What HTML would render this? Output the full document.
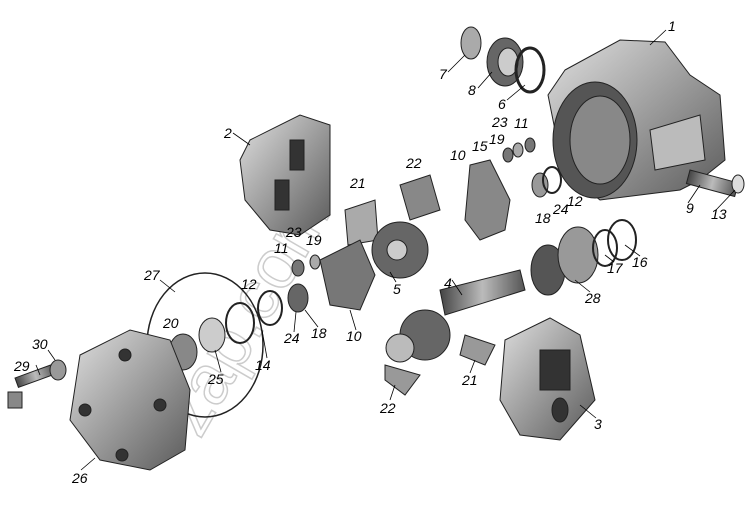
<!DOCTYPE html>
<html><head><meta charset="utf-8"><style>
html,body{margin:0;padding:0;background:#fff}
svg{display:block}
text{font-family:"Liberation Sans",sans-serif;font-size:14px;font-style:italic;fill:#000}
</style></head><body>
<svg width="749" height="512" viewBox="0 0 749 512" xmlns="http://www.w3.org/2000/svg">
<defs>
<linearGradient id="g1" x1="0" y1="0" x2="1" y2="1"><stop offset="0" stop-color="#e0e0e0"/><stop offset="1" stop-color="#5a5a5a"/></linearGradient>
<linearGradient id="g2" x1="0" y1="0" x2="1" y2="0"><stop offset="0" stop-color="#444"/><stop offset=".5" stop-color="#bbb"/><stop offset="1" stop-color="#555"/></linearGradient>
</defs>
<text x="200" y="440" transform="rotate(-60 200 440)" style="font-size:70px;font-style:normal;fill:none;stroke:#ccc;stroke-width:1.5">zap.com</text>
<g stroke="#222" stroke-width="1">
<path d="M565 70 L620 40 L665 42 L690 75 L720 95 L725 160 L700 180 L680 190 L640 195 L600 200 L575 180 L555 130 L548 95 Z" fill="url(#g1)"/>
<ellipse cx="595" cy="140" rx="42" ry="58" fill="#555"/>
<ellipse cx="600" cy="140" rx="30" ry="44" fill="#888"/>
<path d="M650 130 L700 115 L705 160 L655 170 Z" fill="#bbb"/>
<rect x="690" y="170" width="50" height="14" transform="rotate(15 690 170)" fill="url(#g2)"/>
<ellipse cx="738" cy="184" rx="6" ry="9" fill="#ddd"/>
<ellipse cx="471" cy="43" rx="10" ry="16" fill="#aaa"/>
<ellipse cx="505" cy="62" rx="18" ry="24" fill="#666"/>
<ellipse cx="508" cy="62" rx="10" ry="14" fill="#ccc"/>
<ellipse cx="530" cy="70" rx="14" ry="22" fill="none" stroke-width="3"/>
<ellipse cx="508" cy="155" rx="5" ry="7" fill="#777"/>
<ellipse cx="518" cy="150" rx="5" ry="7" fill="#aaa"/>
<ellipse cx="530" cy="145" rx="5" ry="7" fill="#777"/>
<ellipse cx="540" cy="185" rx="8" ry="12" fill="#999"/>
<ellipse cx="552" cy="180" rx="9" ry="13" fill="none" stroke-width="2"/>
<path d="M250 140 L300 115 L330 125 L330 215 L300 235 L270 230 L245 200 L240 160 Z" fill="url(#g1)"/>
<rect x="290" y="140" width="14" height="30" fill="#333"/>
<rect x="275" y="180" width="14" height="30" fill="#333"/>
<path d="M470 165 L490 160 L510 200 L505 230 L480 240 L465 220 Z" fill="#888"/>
<path d="M400 185 L430 175 L440 210 L410 220 Z" fill="#888"/>
<path d="M345 210 L375 200 L378 240 L348 245 Z" fill="#aaa"/>
<circle cx="400" cy="250" r="28" fill="#666"/>
<circle cx="397" cy="250" r="10" fill="#ccc"/>
<path d="M320 260 L360 240 L375 275 L360 310 L330 305 Z" fill="#777"/>
<ellipse cx="298" cy="268" rx="6" ry="8" fill="#777"/>
<ellipse cx="315" cy="262" rx="5" ry="7" fill="#aaa"/>
<ellipse cx="298" cy="298" rx="10" ry="14" fill="#666"/>
<ellipse cx="270" cy="308" rx="12" ry="17" fill="none" stroke-width="2"/>
<ellipse cx="240" cy="323" rx="14" ry="20" fill="none" stroke-width="2"/>
<ellipse cx="205" cy="345" rx="58" ry="72" fill="none" stroke-width="1.5"/>
<ellipse cx="183" cy="352" rx="14" ry="18" fill="#888"/>
<ellipse cx="212" cy="335" rx="13" ry="17" fill="#ccc"/>
<path d="M440 290 L520 270 L525 290 L445 315 Z" fill="url(#g2)"/>
<circle cx="425" cy="335" r="25" fill="#666"/>
<circle cx="400" cy="348" r="14" fill="#bbb"/>
<path d="M385 365 L420 375 L405 395 L385 380 Z" fill="#999"/>
<path d="M465 335 L495 345 L485 365 L460 355 Z" fill="#999"/>
<ellipse cx="548" cy="270" rx="17" ry="25" fill="#555"/>
<ellipse cx="578" cy="255" rx="20" ry="28" fill="#999"/>
<ellipse cx="605" cy="248" rx="12" ry="18" fill="none" stroke-width="2"/>
<ellipse cx="622" cy="240" rx="14" ry="20" fill="none" stroke-width="2"/>
<path d="M505 340 L550 318 L580 335 L595 400 L560 440 L520 435 L500 400 Z" fill="url(#g1)"/>
<rect x="540" y="350" width="30" height="40" fill="#333"/>
<ellipse cx="560" cy="410" rx="8" ry="12" fill="#333"/>
<path d="M80 355 L130 330 L170 340 L190 390 L185 450 L150 470 L100 460 L70 420 Z" fill="url(#g1)"/>
<circle cx="125" cy="355" r="6" fill="#333"/><circle cx="160" cy="405" r="6" fill="#333"/>
<circle cx="122" cy="455" r="6" fill="#333"/><circle cx="85" cy="410" r="6" fill="#333"/>
<rect x="15" y="378" width="40" height="10" transform="rotate(-20 15 378)" fill="url(#g2)"/>
<rect x="8" y="392" width="14" height="16" fill="#888"/>
<ellipse cx="58" cy="370" rx="8" ry="10" fill="#999"/>
</g>
<g stroke="#000" stroke-width="0.8" fill="none">
<path d="M666 30 L650 45"/><path d="M448 72 L465 55"/><path d="M478 88 L492 72"/>
<path d="M507 100 L525 85"/><path d="M233 133 L250 145"/><path d="M688 203 L700 185"/>
<path d="M716 210 L735 190"/><path d="M640 256 L625 245"/><path d="M614 262 L605 255"/>
<path d="M590 292 L575 280"/><path d="M160 280 L175 292"/><path d="M396 282 L390 272"/>
<path d="M452 280 L462 295"/><path d="M81 470 L95 458"/><path d="M36 365 L40 375"/>
<path d="M48 350 L55 360"/><path d="M596 418 L580 405"/><path d="M390 400 L395 385"/>
<path d="M470 373 L475 360"/><path d="M267 358 L262 330"/><path d="M221 372 L215 350"/>
<path d="M356 330 L350 310"/><path d="M294 332 L296 312"/><path d="M318 327 L305 310"/>
</g>
<g>
<text x="668" y="31">1</text><text x="439" y="79">7</text><text x="468" y="95">8</text>
<text x="498" y="109">6</text><text x="492" y="127">23</text><text x="514" y="128">11</text>
<text x="489" y="144">19</text><text x="472" y="151">15</text><text x="450" y="160">10</text>
<text x="224" y="138">2</text><text x="406" y="168">22</text><text x="350" y="188">21</text>
<text x="567" y="206">12</text><text x="553" y="214">24</text><text x="535" y="223">18</text>
<text x="686" y="213">9</text><text x="711" y="219">13</text>
<text x="632" y="267">16</text><text x="607" y="273">17</text><text x="585" y="303">28</text>
<text x="286" y="237">23</text><text x="306" y="245">19</text><text x="274" y="253">11</text>
<text x="144" y="280">27</text><text x="241" y="289">12</text><text x="393" y="294">5</text>
<text x="444" y="288">4</text><text x="284" y="343">24</text><text x="311" y="338">18</text>
<text x="346" y="341">10</text><text x="163" y="328">20</text><text x="255" y="370">14</text>
<text x="208" y="384">25</text><text x="32" y="349">30</text><text x="14" y="371">29</text>
<text x="462" y="385">21</text><text x="380" y="413">22</text><text x="594" y="429">3</text>
<text x="72" y="483">26</text>
</g>
</svg>
</body></html>
